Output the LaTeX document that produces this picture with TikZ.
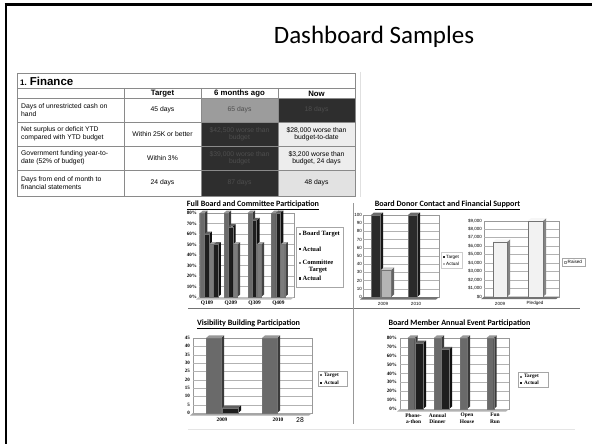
\documentclass[tikz,border=0pt]{standalone}
\usepackage{fontspec}
\setmainfont{Liberation Serif}
\newfontfamily\titlefont{Carlito}
\newfontfamily\arialf{Liberation Sans}
\newfontfamily\timesf{Liberation Serif}

\definecolor{tgray}{HTML}{6A6A6A}
\definecolor{cgray}{HTML}{7C7C7C}
\definecolor{ablack}{HTML}{1E1E1E}
\definecolor{donorblk}{HTML}{2A2A2A}
\definecolor{donorlt}{HTML}{B4B4B4}
\definecolor{raised}{HTML}{F2F2F2}
\definecolor{celldark}{HTML}{2E2E2E}
\definecolor{cellmid}{HTML}{9C9C9C}
\definecolor{celllight}{HTML}{EDEDED}
\definecolor{celllight2}{HTML}{E2E2E2}
\definecolor{darktext}{HTML}{4E4E4E}
\definecolor{rule}{HTML}{8A8A8A}

% 3D bar: left x, width, base y, px per unit, value, fill colour
\newcommand\tdbar[6]{%
  \pgfmathsetmacro\tdtop{#3-#5*#4}%
  \pgfmathsetmacro\tdright{#1+#2}%
  \fill[#6] (#1,#3) rectangle (\tdright,\tdtop);
  \fill[#6!55!black] (\tdright,#3) -- ++(3,-2.5) -- (\tdright+3,\tdtop-2.5) -- (\tdright,\tdtop) -- cycle;
  \fill[#6!70!white] (#1,\tdtop) -- ++(3,-2.5) -- (\tdright+3,\tdtop-2.5) -- (\tdright,\tdtop) -- cycle;
  \draw[black!55,line width=0.2pt] (#1,#3) rectangle (\tdright,\tdtop);
}
% floor of a 3D plot: x0, x1, base y, colour
\newcommand\tdfloor[4]{%
  \fill[#4] (#1,#3) -- (#2,#3) -- (#2-3,#3+2.5) -- (#1-3,#3+2.5) -- cycle;
}

\tikzset{
  cell/.style={font=\arialf\fontsize{6.8}{7.6}\selectfont, align=center, inner sep=0pt},
  lcell/.style={font=\arialf\fontsize{6.8}{7.6}\selectfont, align=left, anchor=west, inner sep=0pt},
  hdr/.style={font=\arialf\bfseries\fontsize{7.8}{9}\selectfont, inner sep=0pt},
  ctitle/.style={font=\titlefont\bfseries\fontsize{8.1}{9}\selectfont, inner sep=0pt},
  axlab/.style={font=\timesf\bfseries\fontsize{5}{6}\selectfont, inner sep=0pt, anchor=east},
  catlab/.style={font=\timesf\bfseries\fontsize{5.4}{6.6}\selectfont, inner sep=0pt, align=center},
  axsans/.style={font=\arialf\fontsize{4.5}{5}\selectfont, inner sep=0pt, anchor=east},
  catsans/.style={font=\arialf\fontsize{4.5}{5}\selectfont, inner sep=0pt},
  legtxt/.style={font=\timesf\bfseries\fontsize{6.5}{7.2}\selectfont, inner sep=0pt, anchor=west},
  legsmall/.style={legtxt, font=\timesf\bfseries\fontsize{5.2}{6}\selectfont},
  legsans/.style={font=\arialf\fontsize{4.6}{5}\selectfont, inner sep=0pt, anchor=west},
  legbox/.style={draw=black!35, line width=0.3pt},
  gridl/.style={draw=black!30, line width=0.3pt},
  wall/.style={draw=black!40, line width=0.3pt},
  tline/.style={draw=rule, line width=0.7pt},
}

\begin{document}
\begin{tikzpicture}[x=1pt,y=-1pt]
\useasboundingbox (0,0) rectangle (592,444);
\fill[white] (0,0) rectangle (592,444);

% slide frame
\draw[black, line width=2.6pt] (4.5,4.6) -- (592,4.6);
\draw[black, line width=2.6pt] (6,3.3) -- (6,444);

% slide title
\node[font=\titlefont\fontsize{25}{30}\selectfont, anchor=base, inner sep=0pt] (title) at (374,44) {Dashboard Samples};

% ---------------- finance table ----------------
\fill[cellmid] (201,98) rectangle (278,122);
\fill[celldark] (278,98) rectangle (355,122);
\fill[celldark] (201,122) rectangle (278,196);
\fill[celllight] (278,122) rectangle (355,170);
\fill[celllight2] (278,170) rectangle (355,196);
\draw[tline] (17,73) rectangle (355,196);
\foreach \yy in {88,98,122,146,170} \draw[tline] (17,\yy) -- (355,\yy);
\foreach \xx in {124,201,278} \draw[tline] (\xx,88) -- (\xx,196);
\draw[black!12, line width=0.6pt] (360,72) -- (360,197);

\node[anchor=base west, inner sep=0pt, font=\arialf\bfseries] (fin) at (20,85.5)
  {\fontsize{8}{9}\selectfont 1. \fontsize{11.5}{12}\selectfont Finance};
\node[hdr] (hT) at (162.5,93.5) {Target};
\node[hdr] (h6) at (239.5,93.5) {6 months ago};
\node[hdr] (hN) at (316.5,93.5) {Now};

\node[lcell] (r1a) at (21,110) {Days of unrestricted cash on\\hand};
\node[cell] (r1b) at (162.5,110) {45 days};
\node[cell, text=darktext] (r1c) at (239.5,110) {65 days};
\node[cell, text=darktext] (r1d) at (316.5,110) {18 days};

\node[lcell] (r2a) at (21,134) {Net surplus or deficit YTD\\compared with YTD budget};
\node[cell] (r2b) at (162.5,134) {Within 25K or better};
\node[cell, text=darktext] (r2c) at (239.5,134) {\$42,500 worse than\\budget};
\node[cell] (r2d) at (316.5,134) {\$28,000 worse than\\budget-to-date};

\node[lcell] (r3a) at (21,158) {Government funding year-to-\\date (52\% of budget)};
\node[cell] (r3b) at (162.5,158) {Within 3\%};
\node[cell, text=darktext] (r3c) at (239.5,158) {\$39,000 worse than\\budget};
\node[cell] (r3d) at (316.5,158) {\$3,200 worse than\\budget, 24 days};

\node[lcell] (r4a) at (21,183) {Days from end of month to\\financial statements};
\node[cell] (r4b) at (162.5,183) {24 days};
\node[cell, text=darktext] (r4c) at (239.5,183) {87 days};
\node[cell] (r4d) at (316.5,183) {48 days};

% ---------------- panel dividers ----------------
\draw[black!55, line width=0.8pt] (188,308) -- (580,308);
\draw[black!40, line width=0.8pt] (353,203) -- (353,424);
\draw[black!10, line width=0.6pt] (188,429) -- (575,429);

% ---------------- chart 1: full board ----------------
\node[ctitle] (t1) at (253,205) {\underline{Full Board and Committee Participation}};
\draw[wall] (199,213) rectangle (294,297);
\foreach \v in {10,20,...,70} \draw[gridl] (199,{297-\v*1.05}) -- (294,{297-\v*1.05});
\tdfloor{199}{294}{297}{black!25}
\foreach \v in {0,10,...,80} \node[axlab] (ya\v) at (197,{297-\v*1.05}) {\v\%};
\foreach \g/\a/\b/\c/\d [count=\i from 0] in {Q109/80/60/50/50, Q209/80/67/50/0, Q309/80/73/50/0, Q409/80/80/50/0}{
  \pgfmathsetmacro\gs{200+23.8*\i}
  \tdbar{\gs}{4.4}{297}{1.05}{\a}{tgray}
  \tdbar{\gs+4.5}{4.4}{297}{1.05}{\b}{ablack}
  \tdbar{\gs+9}{4.4}{297}{1.05}{\c}{cgray}
  \ifnum\d>0 \tdbar{\gs+13.5}{4.4}{297}{1.05}{\d}{ablack}\fi
  \node[catlab] (c1\i) at ({207+23.8*\i},303.5) {\g};
}
\draw[legbox] (296,227) rectangle (343,287);
\fill[tgray] (298.5,232.8) rectangle ++(2.6,2.6);
\node[legtxt] (l1a) at (302.5,234) {Board Target};
\fill[ablack] (298.5,247.8) rectangle ++(2.6,2.6);
\node[legtxt] (l1b) at (302.5,249) {Actual};
\fill[cgray] (298.5,261.8) rectangle ++(2.6,2.6);
\node[legtxt, align=center, anchor=north west] (l1c) at (302.5,259.5) {Committee\\Target};
\fill[ablack] (298.5,277.3) rectangle ++(2.6,2.6);
\node[legtxt] (l1d) at (302.5,278.5) {Actual};

% ---------------- chart 2: donor contact and financial support ----------------
\node[ctitle] (t2) at (447.5,205) {\underline{Board Donor Contact and Financial Support}};
% left part
\draw[wall] (363,215) rectangle (439,297);
\foreach \v in {10,20,...,90} \draw[gridl] (363,{297-\v*0.82}) -- (439,{297-\v*0.82});
\tdfloor{363}{439}{297}{black!55}
\foreach \v in {0,10,...,100} \node[axsans] (yb\v) at (362,{297-\v*0.82}) {\v};
\tdbar{371}{9}{297}{0.82}{100}{donorblk}
\tdbar{381}{10}{297}{0.82}{33}{donorlt}
\tdbar{408}{9}{297}{0.82}{100}{donorblk}
\node[catsans] (c2a) at (383,303.5) {2009};
\node[catsans] (c2b) at (416,303.5) {2010};
\draw[legbox, draw=black!20] (441,252) rectangle (462,268);
\fill[donorblk] (443,255.8) rectangle ++(2.4,2.4);
\node[legsans] (l2a) at (446,257) {Target};
\fill[donorlt] (443,262.8) rectangle ++(2.4,2.4);
\node[legsans] (l2b) at (446,264) {Actual};
% right part
\draw[wall] (484,220.7) rectangle (559,296.7);
\foreach \v in {1,...,8} \draw[gridl] (484,{296.7-\v*8.44}) -- (559,{296.7-\v*8.44});
\tdfloor{484}{559}{296.7}{black!55}
\node[axsans] (yc0) at (482,296.7) {\$0};
\foreach \v in {1,...,9} \node[axsans] (yc\v) at (482,{296.7-\v*8.44}) {\$\v,000};
\tdbar{493}{14}{296.7}{8.44}{6.5}{raised}
\tdbar{528}{15}{296.7}{8.44}{9}{raised}
\node[catsans] (c2c) at (500,303.5) {2009};
\node[catsans] (c2d) at (535,303.5) {Pledged};
\draw[legbox] (562,258) rectangle (585,266.5);
\fill[raised] (564,261) rectangle ++(2.4,2.4);
\draw[black!40, line width=0.2pt] (564,261) rectangle ++(2.4,2.4);
\node[legsans] (l2c) at (567.5,262.2) {Raised};

% ---------------- chart 3: visibility building ----------------
\node[ctitle] (t3) at (248.5,324) {\underline{Visibility Building Participation}};
\draw[wall] (193,338) rectangle (312,413);
\foreach \v in {5,10,...,40} \draw[gridl] (193,{413-\v*1.667}) -- (312,{413-\v*1.667});
\tdfloor{193}{312}{413}{black!35}
\foreach \v in {0,5,...,45} \node[axlab] (yd\v) at (190,{413-\v*1.667}) {\v};
\tdbar{206}{15}{413}{1.667}{45}{tgray}
\tdbar{222}{16}{413}{1.667}{3}{ablack}
\tdbar{262}{15}{413}{1.667}{45}{tgray}
\node[catlab] (c3a) at (222,420) {2009};
\node[catlab] (c3b) at (278,420) {2010};
\node[font=\titlefont\fontsize{7.5}{8}\selectfont, inner sep=0pt] (pg) at (300,420) {28};
\draw[legbox] (318,371) rectangle (347,386.5);
\fill[tgray] (320,374) rectangle ++(2.4,2.4);
\node[legsmall] (l3a) at (324,375.2) {Target};
\fill[ablack] (320,381.5) rectangle ++(2.4,2.4);
\node[legsmall] (l3b) at (324,382.7) {Actual};

% ---------------- chart 4: annual event participation ----------------
\node[ctitle] (t4) at (459.5,324) {\underline{Board Member Annual Event Participation}};
\draw[wall] (400,337.8) rectangle (509,409);
\foreach \v in {10,20,...,70} \draw[gridl] (400,{409-\v*0.89}) -- (509,{409-\v*0.89});
\tdfloor{400}{509}{409}{black!30}
\foreach \v in {0,10,...,80} \node[axlab] (ye\v) at (397,{409-\v*0.89}) {\v\%};
\tdbar{407.7}{7}{409}{0.89}{80}{tgray}
\tdbar{415}{8}{409}{0.89}{74}{ablack}
\tdbar{434}{7}{409}{0.89}{80}{tgray}
\tdbar{441}{8}{409}{0.89}{67}{ablack}
\tdbar{460}{7}{409}{0.89}{80}{tgray}
\tdbar{486.7}{7}{409}{0.89}{80}{tgray}
\node[catlab, anchor=north] (c4a) at (413.5,413.2) {Phone-\\a-thon};
\node[catlab, anchor=north] (c4b) at (437.5,413.2) {Annual\\Dinner};
\node[catlab, anchor=north] (c4c) at (467,413.2) {Open\\House};
\node[catlab, anchor=north] (c4d) at (495,413.2) {Fun\\Run};
\draw[legbox] (518,372) rectangle (548,387);
\fill[tgray] (520,375.5) rectangle ++(2.4,2.4);
\node[legsmall] (l4a) at (524,376.7) {Target};
\fill[ablack] (520,382) rectangle ++(2.4,2.4);
\node[legsmall] (l4b) at (524,383.2) {Actual};
\end{tikzpicture}
\end{document}
